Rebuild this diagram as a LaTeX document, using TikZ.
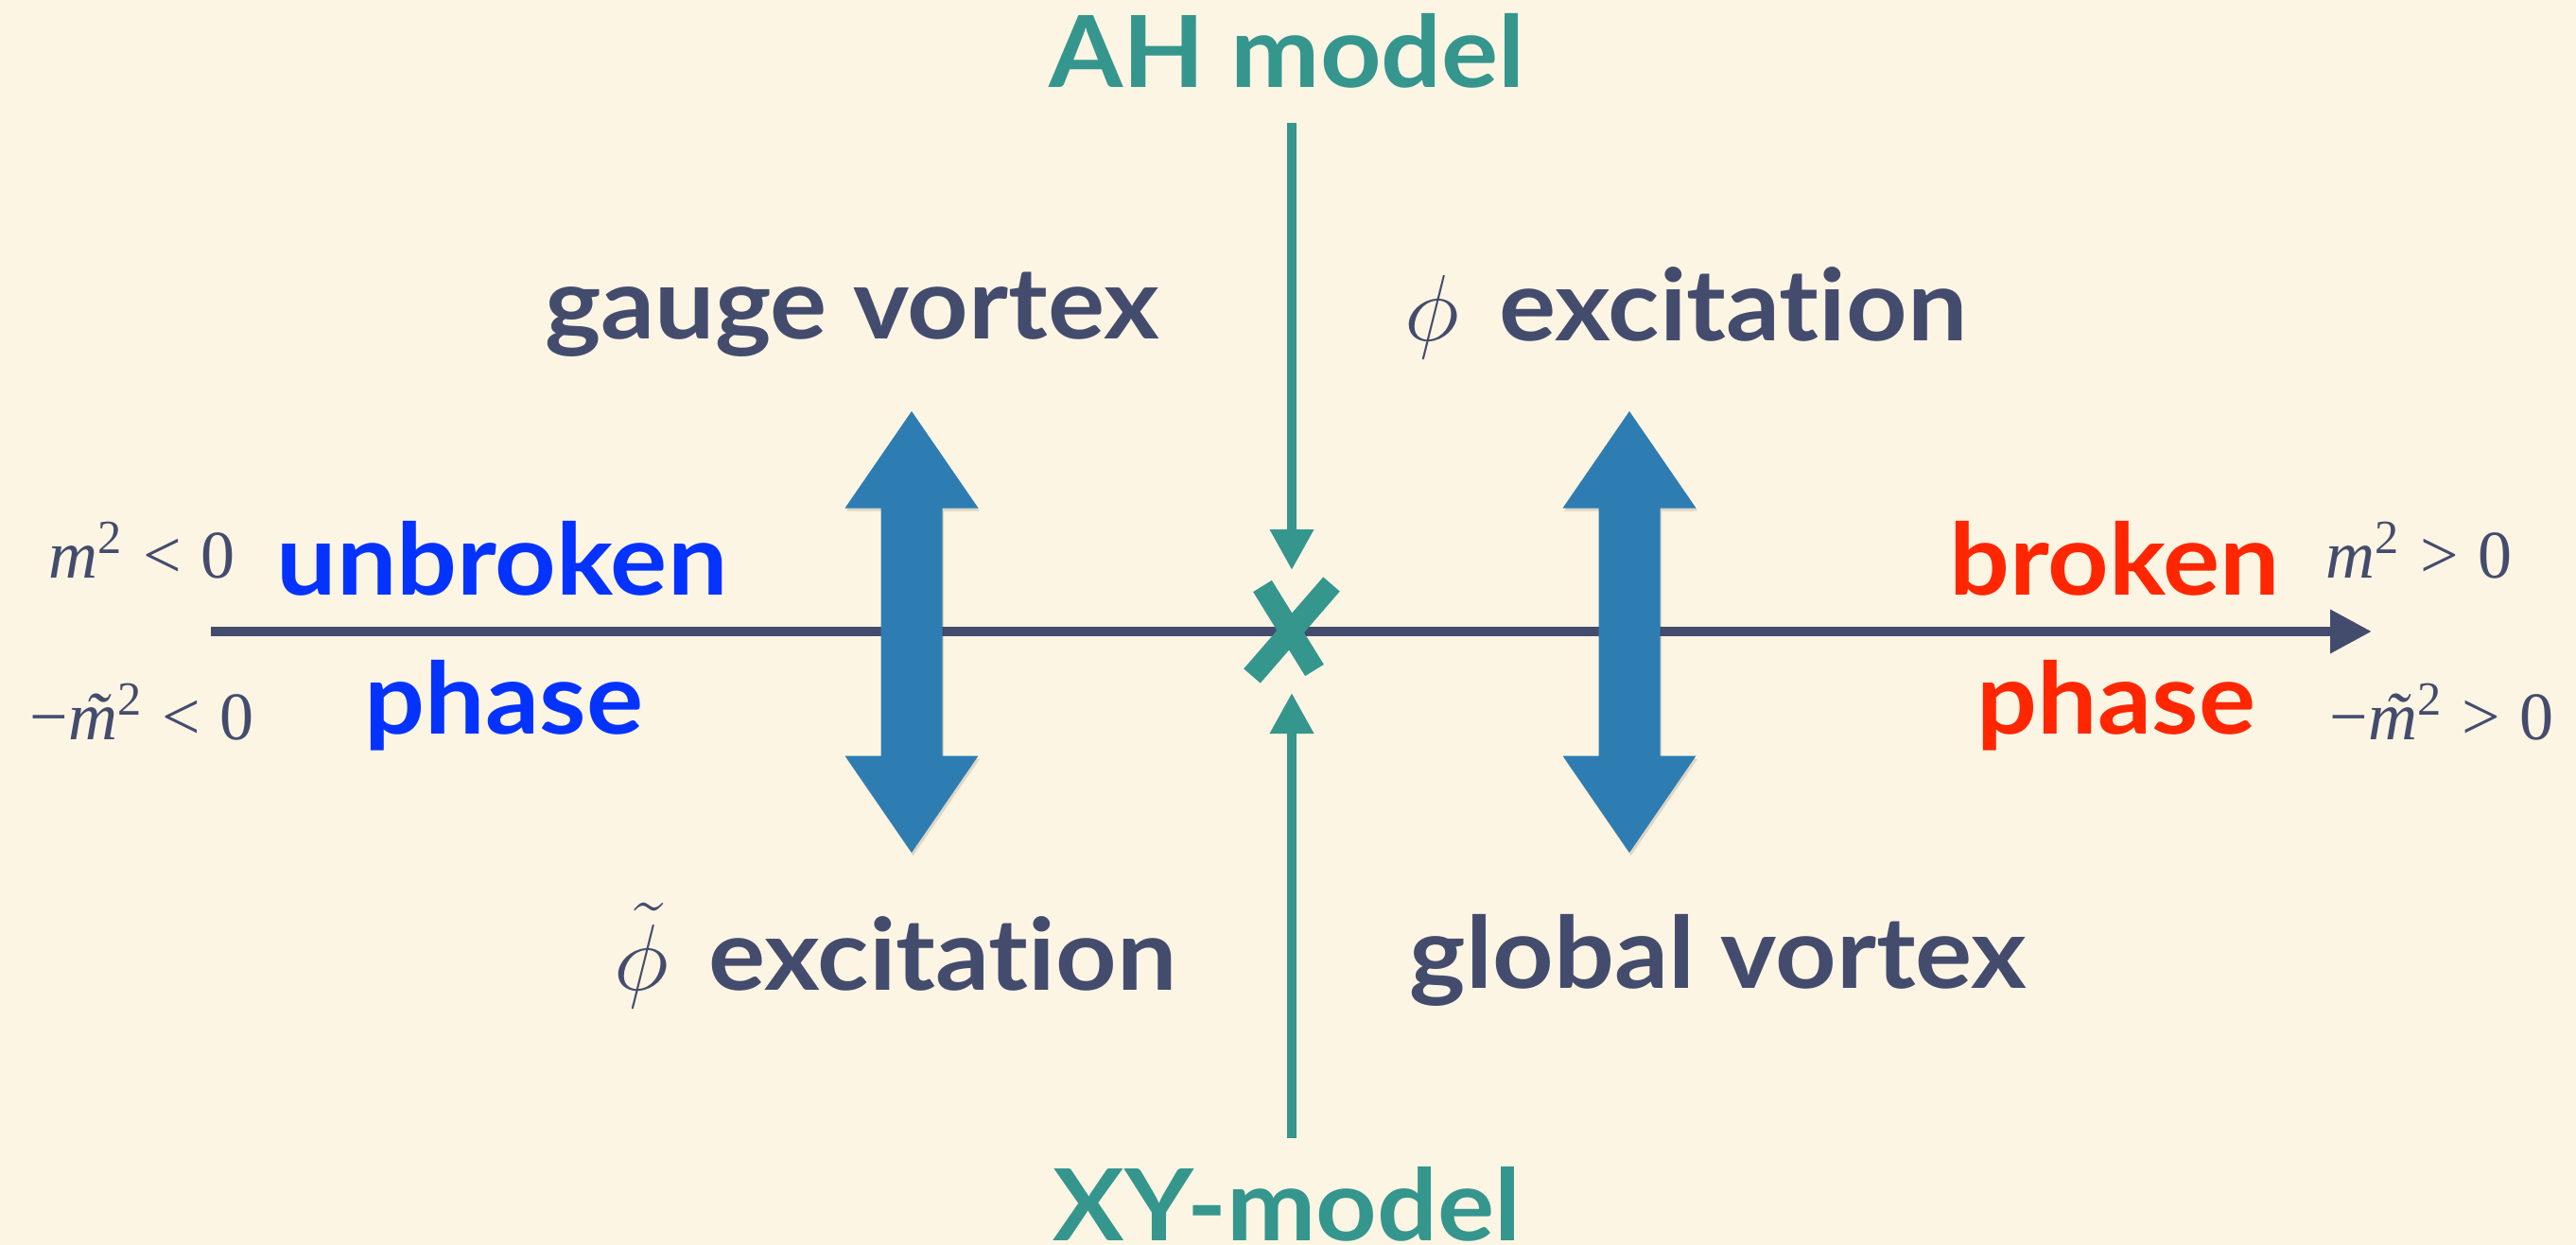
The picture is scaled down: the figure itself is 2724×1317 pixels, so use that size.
\documentclass[tikz,border=0pt]{standalone}
\usepackage{fontspec}
\setmainfont{Lato}[Ligatures={NoCommon}]
\newfontfamily\tms{Liberation Serif}
\usetikzlibrary{arrows.meta,shadows}
\definecolor{bg}{RGB}{253,245,227}
\definecolor{slate}{RGB}{68,76,110}
\definecolor{tealc}{RGB}{53,150,142}
\definecolor{arrblue}{RGB}{46,125,178}
\definecolor{txtblue}{RGB}{4,51,255}
\definecolor{txtred}{RGB}{255,38,0}
\tikzset{
  lbl/.style={inner sep=0pt, outer sep=0pt, anchor=base, font=\bfseries\fontsize{26.3}{30}\selectfont},
  mth/.style={inner sep=0pt, outer sep=0pt, anchor=base, text=slate, font=\tms\fontsize{18}{20}\selectfont},
  tealarrow/.style={tealc, line width=2.5pt, -{Triangle[length=10.75pt,width=11pt]}},
  axisline/.style={slate, line width=2.5pt, -{Triangle[length=11pt,width=11pt]}},
  crossstroke/.style={tealc, line width=5.8pt},
  dblarrow/.pic={
    \fill[arrblue, drop shadow={shadow xshift=0.4pt, shadow yshift=-0.8pt, opacity=0.15, fill=black!70!brown}]
      (0,-233.5) -- (70.5,-131) -- (32.5,-131) -- (32.5,131) -- (70.5,131) -- (0,233.5)
      -- (-70.5,131) -- (-32.5,131) -- (-32.5,-131) -- (-70.5,-131) -- cycle;
  }
}
\newcommand{\sx}[1]{\scalebox{1.07}[1]{#1}}
\newcommand{\mmt}{\makebox[0pt][l]{\hspace{0.24em}\textit{˜}}\textit{m}}
\begin{document}
\begin{tikzpicture}[x=0.25pt,y=-0.25pt]
\fill[bg] (0,0) rectangle (2724,1317);
\useasboundingbox (0,0) rectangle (2724,1317);

% axis
\coordinate (axL) at (223,668);
\coordinate (axR) at (2508,668);
\draw[axisline] (axL) -- (axR);

% double arrows
\pic (dl) at (964,668.5) {dblarrow};
\pic (dr) at (1723,668.5) {dblarrow};

% teal arrows and cross
\coordinate (t1) at (1366,130);
\coordinate (t2) at (1366,603);
\coordinate (b1) at (1366,1204);
\coordinate (b2) at (1366,733);
\draw[tealarrow] (t1) -- (t2);
\draw[tealarrow] (b1) -- (b2);
\coordinate (c1a) at (1335,620);
\coordinate (c1b) at (1390,709);
\coordinate (c2a) at (1408,618);
\coordinate (c2b) at (1324,715);
\draw[crossstroke] (c1a) -- (c1b);
\draw[crossstroke] (c2a) -- (c2b);

% labels
\node[lbl, text=tealc] (ah) at (1361,93) {\sx{AH model}};
\node[lbl, text=tealc] (xy) at (1361,1312) {\sx{XY-model}};
\node[lbl, text=slate] (gv) at (901,358) {\sx{gauge vortex}};
\node[lbl, text=slate] (pe) at (1783,360) {$\phi$\hspace{0.4em}\sx{excitation}};
\node[lbl, text=slate] (pte) at (947,1047) {$\tilde\phi$\hspace{0.4em}\sx{excitation}};
\node[lbl, text=slate] (glv) at (1817,1045) {\sx{global vortex}};
\node[lbl, text=txtblue] (ub) at (531,629) {\sx{unbroken}};
\node[lbl, text=txtblue] (ubp) at (533,776) {\sx{phase}};
\node[lbl, text=txtred] (br) at (2236,629) {\sx{broken}};
\node[lbl, text=txtred] (brp) at (2238,776) {\sx{phase}};

\node[mth] (ml1) at (150,611) {\textit{m}\textsuperscript{2}\hspace{0.28em}<\hspace{0.28em}0};
\node[mth] (ml2) at (150,782) {−\mmt\textsuperscript{2}\hspace{0.28em}<\hspace{0.28em}0};
\node[mth] (mr1) at (2558,611) {\textit{m}\textsuperscript{2}\hspace{0.28em}>\hspace{0.28em}0};
\node[mth] (mr2) at (2582,782) {−\mmt\textsuperscript{2}\hspace{0.28em}>\hspace{0.28em}0};
\end{tikzpicture}
\end{document}
